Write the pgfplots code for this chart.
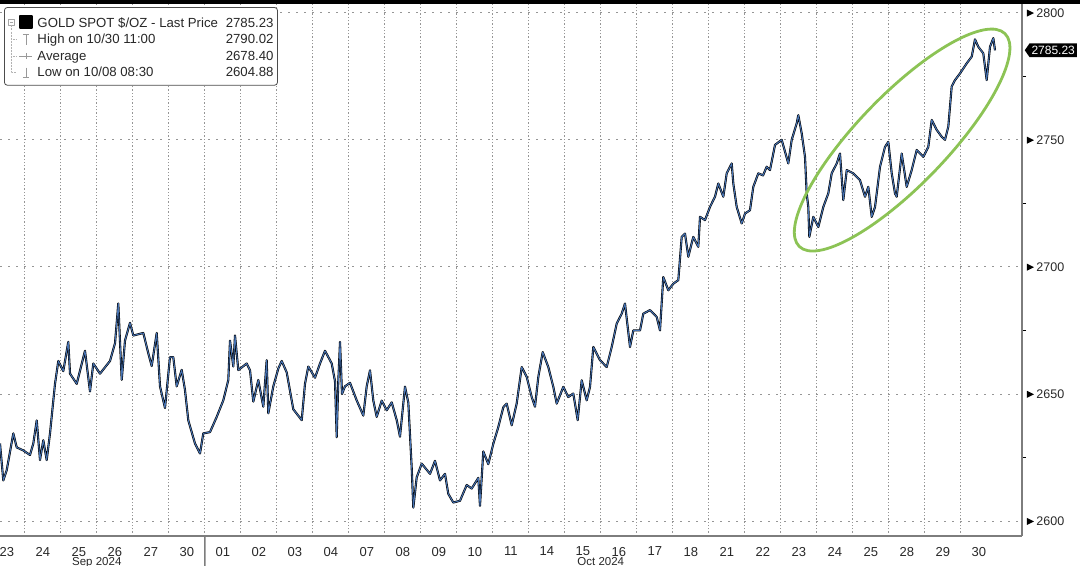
\documentclass[border=0pt]{standalone}
\usepackage{fontspec}
\setmainfont{Liberation Sans}
\usepackage{pgfplots}
\usepackage{pgfplotstable}
\pgfplotsset{compat=1.18}
\usetikzlibrary{shapes.symbols}
\definecolor{gridc}{RGB}{150,150,150}
\definecolor{axc}{RGB}{125,125,125}
\definecolor{bbblue}{RGB}{70,115,180}
\definecolor{ellg}{RGB}{140,195,85}
\definecolor{txt}{RGB}{40,40,40}

\pgfplotstableread{
u p
-0.189 2630.5
-0.097 2616
-0.003 2620
0.181 2634.5
0.275 2629
0.458 2627.8
0.644 2626
0.736 2630.5
0.831 2639.6
0.922 2624
1.014 2631.8
1.108 2624
1.200 2634.5
1.339 2654
1.431 2663
1.569 2659
1.708 2670.5
1.756 2658
1.942 2654
2.172 2667
2.311 2651
2.403 2662
2.589 2658
2.867 2663
3.006 2670
3.097 2685.6
3.192 2655.6
3.283 2671
3.422 2678
3.514 2673
3.792 2674
3.931 2666
4.025 2661
4.164 2674
4.256 2653
4.394 2644.5
4.533 2664.5
4.625 2664.5
4.719 2653
4.858 2659.5
4.950 2651.5
5.042 2639.6
5.228 2630.5
5.367 2626.6
5.458 2634.5
5.644 2635
5.831 2641
6.014 2647.5
6.153 2655.5
6.200 2671
6.292 2660.8
6.339 2673
6.431 2659.4
6.664 2662
6.756 2659.3
6.847 2647
6.986 2655.5
7.125 2645
7.219 2663.3
7.264 2642.4
7.403 2653
7.542 2660
7.636 2663
7.775 2658.5
7.958 2644
8.192 2639.7
8.283 2654
8.375 2660.8
8.561 2656.4
8.700 2662
8.839 2667
9.025 2662
9.117 2655
9.164 2633
9.208 2655
9.256 2670.5
9.311 2650
9.394 2653
9.533 2654.4
9.719 2647.5
9.903 2641.5
9.997 2653
10.089 2659.3
10.181 2647.4
10.275 2641
10.414 2647.4
10.553 2643.6
10.692 2646.7
10.831 2639.7
10.922 2633.2
11.061 2652.9
11.153 2646.6
11.247 2621
11.292 2605.3
11.386 2617.2
11.525 2622.6
11.756 2618.6
11.894 2623.7
12.033 2616
12.172 2618.6
12.264 2610.7
12.403 2607.3
12.589 2608
12.775 2614.2
12.914 2612.8
13.097 2617
13.144 2606
13.236 2627.4
13.375 2622.4
13.514 2630.4
13.653 2637
13.792 2644.8
13.886 2646.2
14.025 2637.7
14.164 2646.3
14.303 2660.6
14.442 2656.7
14.581 2648.8
14.672 2645
14.764 2656.7
14.886 2666.5
15.042 2660.6
15.181 2652.8
15.275 2646.2
15.458 2652.8
15.597 2648.8
15.736 2650.2
15.858 2639.7
15.969 2655.4
16.108 2647.5
16.200 2652.8
16.292 2668.5
16.478 2663.3
16.664 2660.6
16.803 2668.5
16.942 2677.7
17.081 2681.6
17.172 2685.6
17.311 2668.5
17.403 2675
17.589 2675
17.681 2681.6
17.867 2683
18.053 2680.3
18.144 2675
18.236 2696
18.375 2690.8
18.514 2693.4
18.653 2694.8
18.747 2711.8
18.839 2713.1
18.931 2704
19.069 2711.8
19.208 2707.9
19.256 2719.7
19.394 2718.4
19.533 2723.6
19.672 2727.6
19.764 2732.8
19.903 2727.6
19.997 2736.8
20.136 2740.7
20.181 2732.8
20.275 2723.6
20.414 2717.1
20.506 2721
20.644 2722.3
20.736 2731.5
20.875 2736.8
21.006 2736
21.108 2739.4
21.200 2738.1
21.339 2748
21.525 2750
21.708 2740.7
21.803 2750
21.942 2756.5
21.986 2759.7
22.081 2752.5
22.172 2743.3
22.219 2728.9
22.264 2723.6
22.292 2711.8
22.403 2719.7
22.542 2715.7
22.681 2723.6
22.819 2728.9
22.914 2736.8
23.053 2740.7
23.144 2744.6
23.236 2726.3
23.331 2738.1
23.514 2736.8
23.700 2734.1
23.839 2727.6
23.931 2731.5
24.025 2719.7
24.117 2723.6
24.256 2739.4
24.394 2747.2
24.486 2749.2
24.581 2736.8
24.672 2728.9
24.719 2727.6
24.858 2744.6
24.997 2731.5
25.136 2738.1
25.275 2746
25.458 2743.3
25.597 2747.2
25.692 2757.8
25.831 2753.9
25.969 2751.2
26.061 2750
26.153 2755.2
26.247 2771
26.339 2773.5
26.478 2776.1
26.664 2780.1
26.803 2782.7
26.894 2789.5
26.986 2786.6
27.125 2784
27.219 2773.5
27.311 2786.6
27.403 2790
27.450 2785.2
}\gold

\begin{document}
\begin{tikzpicture}
\begin{axis}[
  scale only axis, width=1022pt, height=532pt,
  xmin=-0.189, xmax=28.2, ymin=2594.1, ymax=2803.4,
  axis x line*=bottom, axis y line*=right,
  axis line style={draw=axc, line width=1.6pt},
  clip=false,
  xtick={0,...,27},
  xticklabels={23,24,25,26,27,30,01,02,03,04,07,08,09,10,11,14,15,16,17,18,21,22,23,24,25,28,29,30},
  minor xtick={0.5,1.5,...,26.5},
  major x tick style={draw=none},
  minor x tick style={draw=none},
  xminorgrids=true,
  minor x grid style={draw=gridc, line width=0.9pt, dash pattern=on 1.3pt off 2pt},
  xticklabel style={font=\fontsize{13}{15}\selectfont, text=txt, anchor=north, inner sep=0pt, yshift=-6.5pt},
  ytick={2600,2650,2700,2750,2800},
  minor ytick={2625,2675,2725,2775},
  ymajorgrids=true,
  major grid style={draw=gridc, line width=0.9pt, dash pattern=on 2pt off 6pt},
  major y tick style={draw=none},
  minor y tick style={draw=black, line width=0.9pt},
  minor tick length=4pt,
  tick align=outside,
  yticklabel={\tikz[baseline=-0.6ex]\fill[black] (0,-3.5pt)--(7pt,0)--(0,3.5pt)--cycle;\hspace{2.5pt}\pgfmathprintnumber[fixed,precision=0,1000 sep={},assume math mode=true]{\tick}},
  yticklabel style={font=\fontsize{12.5}{15}\selectfont, text=txt, anchor=west, inner sep=0pt, xshift=0.5pt},
  legend style={at={(0,1)}, anchor=north west, xshift=4pt, yshift=-3pt,
    draw=black!70, line width=0.8pt, rounded corners=3pt, fill=white,
    font=\fontsize{13.2}{15}\selectfont, text=txt, inner xsep=2pt, inner ysep=5pt,
    row sep=0pt, column sep=0pt},
  legend cell align=left,
]
\addplot[black, line width=2.1pt, line join=round,
  legend image code/.code={
    \path (0,0) (27pt,0);
    \draw[sharp corners, gray!70, line width=0.5pt] (1pt,-3pt) rectangle (7pt,3pt);
    \draw[gray!70, line width=0.5pt] (2.5pt,0)--(5.5pt,0);
    \draw[gray!60, line width=0.5pt, densely dotted] (4pt,-3pt)--(4pt,-8pt);
    \fill[sharp corners, black] (13pt,-5.8pt) rectangle (24.5pt,5.8pt);
  }] table[x=u,y=p] {\gold};
\addlegendentry{\makebox[236pt][l]{\rule[-3.5pt]{0pt}{17pt}GOLD SPOT \$/OZ - Last Price\hfill 2785.23}}
\addplot[bbblue, line width=0.95pt, line join=round, forget plot] table[x=u,y=p] {\gold};
\addlegendimage{legend image code/.code={
    \path (0,0) (27pt,0);
    \draw[gray!60, line width=0.5pt, densely dotted] (4pt,8pt)--(4pt,-8pt);
    \draw[gray!60, line width=0.5pt, densely dotted] (4pt,0)--(9pt,0);
    \draw[sharp corners, gray!80, line width=0.8pt] (15.5pt,5pt)--(21.5pt,5pt) (18.5pt,5pt)--(18.5pt,-5pt);
  }}
\addlegendentry{\makebox[236pt][l]{\rule[-3.5pt]{0pt}{12.5pt}High on 10/30 11:00\hfill 2790.02}}
\addlegendimage{legend image code/.code={
    \path (0,0) (27pt,0);
    \draw[gray!60, line width=0.5pt, densely dotted] (4pt,8pt)--(4pt,-8pt);
    \draw[gray!60, line width=0.5pt, densely dotted] (4pt,0)--(9pt,0);
    \draw[sharp corners, gray!80, line width=0.8pt] (12pt,0)--(25pt,0) (18.5pt,-3pt)--(18.5pt,3pt);
  }}
\addlegendentry{\makebox[236pt][l]{\rule[-3.5pt]{0pt}{12.5pt}Average\hfill 2678.40}}
\addlegendimage{legend image code/.code={
    \path (0,0) (27pt,0);
    \draw[sharp corners, gray!60, line width=0.5pt, densely dotted] (4pt,8pt)--(4pt,0)--(9pt,0);
    \draw[sharp corners, gray!80, line width=0.8pt] (15.5pt,-5pt)--(21.5pt,-5pt) (18.5pt,5pt)--(18.5pt,-5pt);
  }}
\addlegendentry{\makebox[236pt][l]{\rule[-3.5pt]{0pt}{12.5pt}Low on 10/08 08:30\hfill 2604.88}}
\coordinate (pgA) at (axis cs:-0.189,2594.1);
\coordinate (pgB) at (axis cs:28.2,2803.4);
% month separator below axis
\draw[axc, line width=1.6pt] (axis cs:5.5,2594.1) -- ++(0,-32pt);
% month labels
\node[font=\fontsize{11.5}{13}\selectfont, text=txt, anchor=north, inner sep=0pt] at ([yshift=-21.6pt]axis cs:2.5,2594.1) {Sep 2024};
\node[font=\fontsize{11.5}{13}\selectfont, text=txt, anchor=north, inner sep=0pt] at ([yshift=-21.6pt]axis cs:16.5,2594.1) {Oct 2024};
% last price tag
\node[signal, signal to=west, signal pointer angle=110, fill=black, text=white,
  font=\fontsize{12}{14}\selectfont, inner xsep=2pt, inner ysep=2.6pt, anchor=west]
  at ([xshift=2.5pt]axis cs:28.2,2785.23) {2785.23};
% highlight ellipse
\draw[ellg, line width=2.8pt, rotate around={46:(axis cs:24.87,2749.9)}]
  (axis cs:24.87,2749.9) ellipse [x radius=148pt, y radius=45pt];
\end{axis}
\fill[black] ([yshift=0.3pt]pgA |- pgB) rectangle ([xshift=58pt,yshift=4pt]pgB);
\pgfresetboundingbox
\path[use as bounding box] ([yshift=-30pt]pgA) rectangle ([xshift=58pt,yshift=4pt]pgB);
\end{tikzpicture}
\end{document}
